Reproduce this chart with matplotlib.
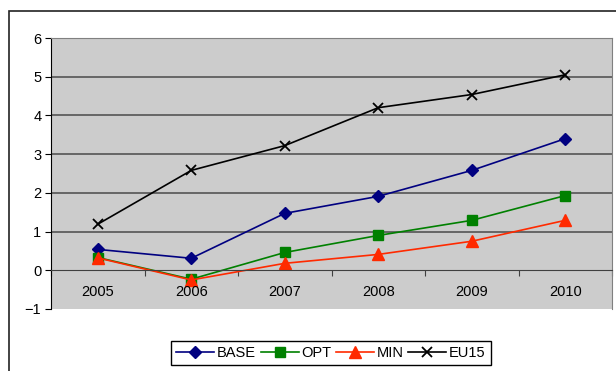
import numpy as np
import matplotlib.pyplot as plt
from matplotlib.patches import Rectangle

plt.rcParams['font.family'] = ['Liberation Sans', 'DejaVu Sans']

years = ['2005', '2006', '2007', '2008', '2009', '2010']
base = [0.54, 0.31, 1.47, 1.91, 2.58, 3.40]
opt = [0.33, -0.23, 0.46, 0.90, 1.29, 1.93]
mins = [0.32, -0.25, 0.18, 0.41, 0.75, 1.29]
eu15 = [1.19, 2.58, 3.22, 4.20, 4.54, 5.05]

fig = plt.figure(figsize=(6.16, 3.71), dpi=100)
ax = fig.add_axes([51/616, 1-309/371, 561/616, 271/371])
ax.set_facecolor('#CCCCCC')

# outer chart frame
fig.patches.append(Rectangle((9/616, -0.05), 1.0, 1-11/371+0.05, transform=fig.transFigure,
                             fill=False, edgecolor='#222222', lw=1.2, zorder=0))

x = np.arange(len(years))
ax.plot(x, base, color='#000080', marker='D', ms=6, lw=1.2, label='BASE')
ax.plot(x, opt, color='#008000', marker='s', ms=6.5, lw=1.2, label='OPT')
ax.plot(x, mins, color='#FF2A00', marker='^', ms=8, lw=1.2, label='MIN')
ax.plot(x, eu15, color='black', marker='x', ms=7, mew=1.3, lw=1.2, label='EU15')

ax.set_xlim(-0.5, 5.5)
ax.set_ylim(-1, 6)
ax.set_yticks(range(-1, 7))
for yv in range(1, 7):
    ax.axhline(yv, color='#5E5E5E', lw=1.3, zorder=1)

# category axis sits on y = 0
ax.spines['bottom'].set_position(('data', 0))
ax.spines['bottom'].set_color('#404040')
ax.set_xticks(np.arange(-0.5, 6.0, 1.0))
ax.set_xticklabels([])
ax.tick_params(axis='x', direction='out', length=4, color='#404040')
for xi, yr in zip(x, years):
    ax.text(xi, -0.55, yr, ha='center', va='center', fontsize=10.5)

ax.spines['top'].set_color('#808080')
ax.spines['right'].set_color('#808080')
ax.spines['left'].set_color('black')
ax.tick_params(axis='y', direction='out', length=4, labelsize=10.5, pad=3)

fig.legend(loc='center', bbox_to_anchor=(331/616, 1-353/371), ncol=4, fontsize=10.5,
           frameon=True, fancybox=False, edgecolor='black', framealpha=1,
           handlelength=2.6, handletextpad=0.2, columnspacing=0.3, borderpad=0.35)

fig.savefig('out.png', dpi=100)
